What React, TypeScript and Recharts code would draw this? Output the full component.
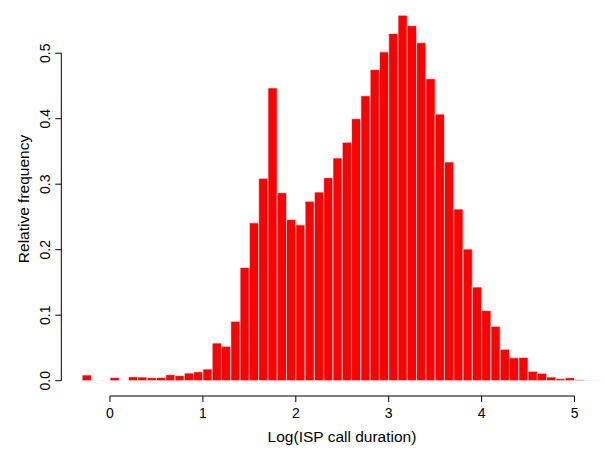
import React from 'react';
import { BarChart, Bar, XAxis, YAxis, ReferenceLine } from 'recharts';

// histogram bins (centre of each 0.1-wide bin) and relative frequencies
const binCenters = [
  -0.25, -0.15, -0.05, 0.05, 0.15, 0.25, 0.35, 0.45, 0.55, 0.65,
  0.75, 0.85, 0.95, 1.05, 1.15, 1.25, 1.35, 1.45, 1.55, 1.65,
  1.75, 1.85, 1.95, 2.05, 2.15, 2.25, 2.35, 2.45, 2.55, 2.65,
  2.75, 2.85, 2.95, 3.05, 3.15, 3.25, 3.35, 3.45, 3.55, 3.65,
  3.75, 3.85, 3.95, 4.05, 4.15, 4.25, 4.35, 4.45, 4.55, 4.65,
  4.75, 4.85, 4.95, 5.05, 5.15, 5.25
];

const relFreq = [
  0.0087, 0.0003, 0.0003, 0.0048, 0.0003, 0.006, 0.0055, 0.0046, 0.005, 0.0092,
  0.0077, 0.0117, 0.0137, 0.0178, 0.0575, 0.0525, 0.0906, 0.173, 0.241, 0.309,
  0.447, 0.287, 0.246, 0.238, 0.274, 0.288, 0.31, 0.34, 0.364, 0.4,
  0.435, 0.475, 0.502, 0.53, 0.558, 0.542, 0.516, 0.461, 0.407, 0.334,
  0.262, 0.201, 0.143, 0.107, 0.083, 0.048, 0.035, 0.0356, 0.0143, 0.0113,
  0.0056, 0.0031, 0.0046, 0.0015, 0.0005, 0.0002
];

const xTicks = [0, 1, 2, 3, 4, 5];
const yTicks = [0, 0.1, 0.2, 0.3, 0.4, 0.5];

const X_MIN = -0.524;
const X_MAX = 5.3;
const Y_MIN = -0.02336;
const Y_MAX = 0.565;

const FONT = '"Liberation Sans", Arial, Helvetica, sans-serif';

const data = binCenters.map((x, i) => ({ x, freq: relFreq[i] }));

const YTick = (props: any) => {
  const { y, payload } = props;
  return (
    <text
      x={50}
      y={y}
      transform={`rotate(-90, 50, ${y})`}
      textAnchor="middle"
      fontSize={14}
      fontFamily={FONT}
      fill="#000"
    >
      {Number(payload.value).toFixed(1)}
    </text>
  );
};

const App: React.FC = () => {
  return (
    <div style={{ position: 'absolute', left: 0, top: 0, width: 605, height: 454, background: '#fff' }}>
      <BarChart
        width={605}
        height={454}
        data={data}
        margin={{ top: 10.6, right: 2.6, left: 11.3, bottom: 18 }}
      >
        <XAxis
          dataKey="x"
          type="number"
          domain={[X_MIN, X_MAX]}
          allowDataOverflow
          ticks={xTicks}
          height={40}
          axisLine={false}
          tickLine={{ stroke: '#000' }}
          tickSize={6}
          tickMargin={6}
          tick={{ fill: '#000', fontSize: 14, fontFamily: FONT }}
        />
        <YAxis
          type="number"
          domain={[Y_MIN, Y_MAX]}
          allowDataOverflow
          ticks={yTicks}
          width={50}
          axisLine={false}
          tickLine={{ stroke: '#000' }}
          tickSize={6}
          tick={<YTick />}
        />
        <Bar
          dataKey="freq"
          fill="#ff0000"
          stroke="#ffffff"
          strokeWidth={0.7}
          barSize={9.29}
          isAnimationActive={false}
        />
        <ReferenceLine
          segment={[{ x: 0, y: Y_MIN }, { x: 5, y: Y_MIN }]}
          stroke="#000"
          strokeWidth={1}
          ifOverflow="visible"
        />
        <ReferenceLine
          segment={[{ x: X_MIN, y: 0 }, { x: X_MIN, y: 0.5 }]}
          stroke="#000"
          strokeWidth={1}
          ifOverflow="visible"
        />
      </BarChart>
      <svg
        width={605}
        height={454}
        style={{ position: 'absolute', left: 0, top: 0, pointerEvents: 'none' }}
      >
        <text x={342} y={442} textAnchor="middle" fontSize={15.5} fontFamily={FONT} fill="#000">
          Log(ISP call duration)
        </text>
        <text
          x={28.5}
          y={199}
          transform="rotate(-90, 28.5, 199)"
          textAnchor="middle"
          fontSize={15.5}
          fontFamily={FONT}
          fill="#000"
        >
          Relative frequency
        </text>
      </svg>
    </div>
  );
};

export default App;
